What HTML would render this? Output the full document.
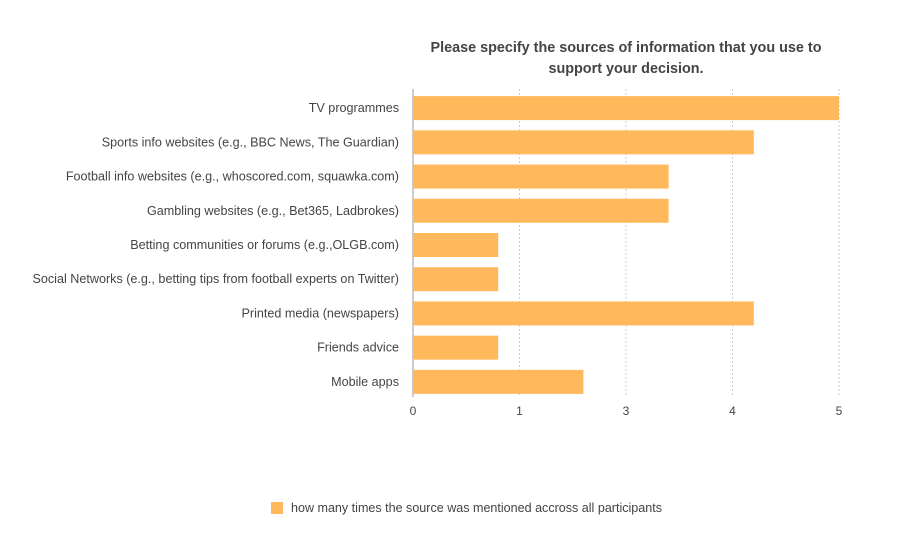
<!DOCTYPE html>
<html><head><meta charset="utf-8"><style>
body{margin:0;background:#fff;font-family:"Liberation Sans",sans-serif;}
svg text{font-family:"Liberation Sans",sans-serif;}
</style></head><body>
<svg id="chart" width="898" height="548" xmlns="http://www.w3.org/2000/svg">
<rect width="898" height="548" fill="#fff"/>
<text x="626" y="52" text-anchor="middle" font-size="14.4" font-weight="bold" fill="#444">Please specify the sources of information that you use to</text>
<text x="626" y="73" text-anchor="middle" font-size="14.4" font-weight="bold" fill="#444">support your decision.</text>
<g id="grid"></g><g id="bars"></g><g id="labels"></g><g id="ticks"></g>
<rect x="271" y="502" width="12" height="12" fill="#ffb85c"/>
<text x="291" y="512" font-size="12.55" fill="#444">how many times the source was mentioned accross all participants</text>
</svg>
<script>
const categories=["TV programmes","Sports info websites (e.g., BBC News, The Guardian)","Football info websites (e.g., whoscored.com, squawka.com)","Gambling websites (e.g., Bet365, Ladbrokes)","Betting communities or forums (e.g.,OLGB.com)","Social Networks (e.g., betting tips from football experts on Twitter)","Printed media (newspapers)","Friends advice","Mobile apps"];
const values=[5,4,3,3,1,1,4,1,2];
const tickValues=[0,1.25,2.5,3.75,5];
const tickLabels=["0","1","3","4","5"];
const NS="http://www.w3.org/2000/svg";
const plotX0=413,plotX1=839,plotTop=91,plotBottom=399,maxV=5;
const xs=v=>plotX0+(v/maxV)*(plotX1-plotX0);
const step=(plotBottom-plotTop)/categories.length;
function mk(tag,attrs,parent){const e=document.createElementNS(NS,tag);for(const k in attrs)e.setAttribute(k,attrs[k]);document.getElementById(parent).appendChild(e);return e;}
tickValues.forEach((t,i)=>{
  const x=xs(t);
  const g=mk('line',{x1:x,x2:x,y1:plotTop-2,y2:plotBottom-2,stroke:i===0?'#999':'#ccc','stroke-dasharray':i===0?'none':'2,2'},'grid');
  
  
  const tx=mk('text',{x:x,y:plotBottom+16,'text-anchor':'middle','font-size':12,fill:'#444'},'ticks');
  tx.textContent=tickLabels[i];
  
  
});
categories.forEach((c,i)=>{
  const cy=plotTop+step*i+step/2;
  const r=mk('rect',{x:plotX0,y:cy-12,width:xs(values[i])-plotX0,height:24,fill:'#ffb85c'},'bars');
  
  
  const t=mk('text',{x:399,y:cy+4,'text-anchor':'end','font-size':12.6,fill:'#444'},'labels');
  t.textContent=c;
  
  
});
</script>
</body></html>
